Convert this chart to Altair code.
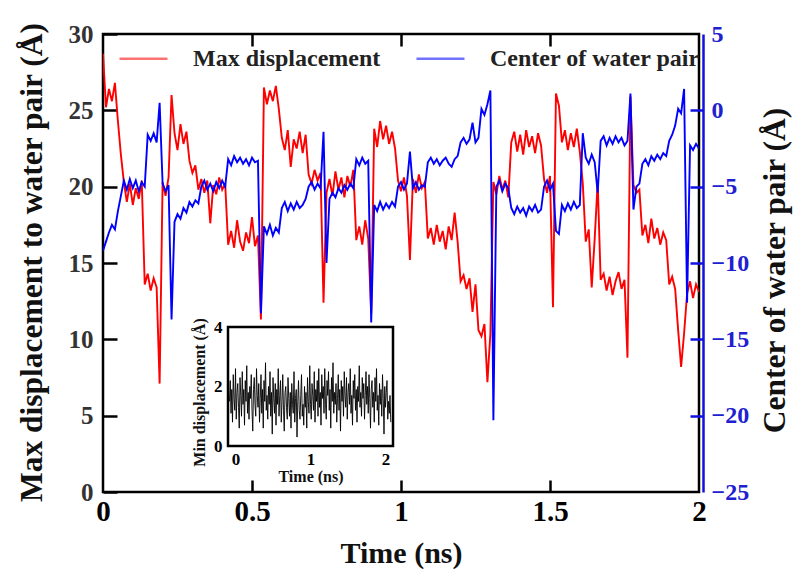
import altair as alt
import pandas as pd

FONT = "Liberation Serif"
W, H = 596, 458

# ---- data (time step 0.01 ns) ----
DT = 0.01
max_disp = [
    28.7, 25.2, 26.4, 25.6, 26.8, 24.3, 22.1, 20.3, 19.0, 20.2,
    18.8, 19.9, 19.2, 20.4, 13.6, 14.3, 13.2, 14.0, 13.4, 7.1,
    20.3, 19.4, 20.6, 26.0, 23.5, 22.4, 24.1, 22.8, 23.6, 21.7,
    20.9, 21.4, 19.8, 20.5, 19.6, 20.4, 17.6, 20.1, 19.5, 20.6,
    19.8, 20.2, 16.2, 17.1, 16.0, 17.8, 16.4, 15.8, 17.0, 16.3,
    18.0, 16.1, 16.8, 11.3, 26.5, 25.4, 26.3, 25.6, 26.6, 25.1,
    23.2, 22.4, 23.7, 21.3, 23.1, 22.5, 23.6, 22.2, 23.4, 20.8,
    20.2, 21.1, 20.4, 20.9, 12.4, 19.6, 20.5, 19.4, 21.0, 19.8,
    20.6, 19.3, 20.7, 20.0, 21.1, 16.5, 17.4, 16.2, 17.8, 16.6,
    11.7, 23.8, 22.6, 24.3, 23.1, 24.0, 22.8, 23.6, 22.5, 20.4,
    19.7, 20.6, 19.4, 15.2, 20.5, 19.6, 20.8, 19.9, 20.3, 16.6,
    17.3, 16.2, 17.5, 16.4, 17.1, 15.9, 17.4, 16.5, 18.3, 16.4,
    13.8, 14.2, 13.3, 14.0, 11.8, 13.6, 10.6, 10.2, 11.0, 7.2,
    10.4, 20.3, 19.5, 20.7, 19.8, 20.4, 19.3, 22.9, 23.6, 22.3,
    23.4, 22.1, 23.7, 22.6, 23.3, 22.2, 23.5, 22.7, 20.5, 19.6,
    20.7, 12.1, 26.1, 25.3, 22.9, 23.7, 22.4, 23.5, 22.6, 23.8,
    22.3, 20.2, 16.4, 17.2, 13.4, 16.6, 20.3, 13.9, 14.3, 13.2,
    14.1, 12.9, 13.8, 14.4, 13.3, 13.9, 8.8, 25.9, 20.1, 19.6,
    19.8, 16.8, 17.5, 16.3, 17.9, 16.6, 17.3, 16.2, 17.0, 16.5,
    13.6, 14.1, 13.3, 10.6, 8.2, 10.4, 13.0, 13.8, 12.7, 13.6,
    13.1,
]
center_pair = [
    -9.2, -8.6, -8.0, -7.5, -7.8, -6.6, -5.6, -4.6, -5.2, -4.5,
    -5.1, -4.6, -5.3, -4.7, -5.0, -1.6, -2.0, -1.5, -2.1, 0.5,
    -4.8, -5.3, -4.9, -13.7, -7.3, -6.8, -7.1, -6.4, -6.7, -6.0,
    -6.3, -5.9, -6.1, -5.0, -4.6, -5.2, -4.8, -5.3, -4.7, -5.1,
    -4.6, -5.0, -3.2, -3.6, -3.0, -3.4, -3.1, -3.5, -3.2, -3.6,
    -3.1, -3.4, -3.3, -13.3, -7.6, -8.1, -7.5, -8.2, -7.7, -8.0,
    -6.4, -6.0, -6.6, -6.1, -6.5, -6.0, -6.4, -6.2, -5.8, -5.0,
    -4.7, -5.2, -4.8, -5.1, -1.4, -10.0, -5.8, -5.4, -5.7, -5.1,
    -5.4, -4.9, -5.2, -4.8, -5.1, -3.2, -3.6, -3.1, -3.5, -3.3,
    -13.9, -6.2, -6.6, -6.0, -6.5, -6.1, -6.4, -6.0, -6.3, -5.0,
    -4.7, -5.2, -4.8, -2.7, -5.1, -4.7, -5.2, -4.9, -5.0, -3.4,
    -3.1, -3.5, -3.2, -3.6, -3.3, -3.1, -3.5, -3.7, -3.2, -3.0,
    -2.1, -1.8, -2.2, -1.9, -0.8, -2.1, -1.8, 0.1, -0.3, 0.4,
    1.3, -20.3, -5.0, -4.6, -5.3, -4.8, -5.1, -6.4, -6.8, -6.3,
    -6.7, -6.4, -6.9, -6.3, -6.6, -6.2, -6.7, -6.5, -5.0, -4.6,
    -5.2, -4.8, -7.9, -8.1, -6.2, -6.6, -6.1, -6.5, -6.0, -6.4,
    -6.2, -1.5, -3.1, -3.5, -2.9, -3.4, -5.4, -2.0, -1.7, -2.3,
    -1.8, -2.2, -1.7, -2.1, -1.8, -2.3, -2.0, 1.1, -6.5, -5.0,
    -4.8, -3.5, -3.2, -3.6, -3.0, -3.3, -2.9, -3.2, -2.8, -3.0,
    -2.0, -1.6, -1.0, 0.1, -0.2, 1.4, -12.6, -2.3, -2.6, -2.2,
    -2.5,
]
# inset: min displacement (time step 0.01 ns starting at -0.08)
INSET_T0, INSET_DT = -0.08, 0.01
min_disp = [
    1.5, 2.2, 1.1, 1.9, 0.8, 2.4, 1.6, 1.2, 2.6, 0.9, 1.8, 2.1, 1.3, 0.6, 2.3, 1.7, 1.0, 2.5, 1.4, 1.9,
    0.7, 2.2, 1.5, 2.7, 1.1, 1.8, 0.9, 2.0, 1.6, 2.4, 1.2, 0.5, 1.9, 2.3, 1.4, 1.0, 2.6, 1.7, 1.3, 2.1,
    0.8, 1.6, 2.4, 1.1, 1.9, 0.6, 2.2, 1.5, 2.8, 1.2, 1.7, 0.9, 2.0, 1.4, 2.5, 1.0, 1.8, 0.4, 2.3, 1.6,
    1.1, 2.1, 0.7, 1.9, 1.4, 2.6, 1.0, 1.7, 2.2, 0.8, 1.5, 2.4, 1.2, 0.5, 1.8, 2.0, 1.3, 0.9, 2.3, 1.6,
    1.0, 1.8, 0.6, 2.1, 1.4, 1.1, 2.5, 0.8, 1.6, 1.9, 0.3, 1.5, 2.2, 1.2, 0.9, 1.7, 2.4, 1.0, 1.4, 0.7,
    2.0, 1.3, 1.8, 0.6, 2.3, 1.5, 1.1, 2.7, 1.4, 0.9, 2.1, 1.7, 1.2, 2.5, 0.8, 1.9, 1.5, 2.2, 1.0, 2.6,
    1.3, 1.8, 0.7, 2.4, 1.6, 2.0, 1.1, 2.6, 1.4, 0.9, 2.2, 1.7, 2.5, 1.2, 1.9, 0.6, 2.3, 1.5, 2.8, 1.1,
    1.8, 1.4, 2.1, 0.8, 1.6, 2.4, 1.2, 1.9, 0.5, 2.2, 1.5, 2.0, 1.0, 2.5, 1.7, 1.3, 2.3, 0.9, 1.8, 2.1,
    1.4, 2.6, 1.1, 1.7, 0.7, 2.2, 1.6, 2.4, 1.2, 1.9, 0.8, 2.0, 1.5, 2.7, 1.3, 1.8, 1.0, 2.3, 1.6, 2.1,
    0.9, 1.7, 2.5, 1.4, 2.0, 1.1, 2.4, 1.6, 0.6, 1.9, 2.2, 1.3, 1.8, 0.8, 2.3, 1.5, 2.6, 1.2, 1.7, 0.7,
    2.1, 1.4, 1.9, 1.0, 2.4, 1.6, 0.4, 2.0, 1.3, 1.8, 2.2, 0.9, 1.5, 1.1, 1.7, 0.8,
]

x_ticks = [0, 0.5, 1, 1.5, 2]
x_inner_ticks = [0.5, 1, 1.5]
left_ticks = [0, 5, 10, 15, 20, 25, 30]
right_ticks = [-25, -20, -15, -10, -5, 0, 5]
series_names = ["Max displacement", "Center of water pair"]
series_colors = ["#ff0000", "#0000ff"]
inset_x_dom = [-0.1, 2.1]
inset_y_dom = [0, 4]
inset_ticks_x = [0, 1, 2]
inset_ticks_y = [0, 2, 4]

red_df = pd.DataFrame({"t": [round(i * DT, 4) for i in range(len(max_disp))], "v": max_disp,
                       "s": series_names[0]})
blue_df = pd.DataFrame({"t": [round(i * DT, 4) for i in range(len(center_pair))], "v": center_pair,
                        "s": series_names[1]})
inset_df = pd.DataFrame({"t": [round(INSET_T0 + i * INSET_DT, 4) for i in range(len(min_disp))],
                         "v": min_disp})
box_df = pd.DataFrame({"x0": [inset_x_dom[0]], "x1": [inset_x_dom[1]],
                       "y0": [inset_y_dom[0]], "y1": [inset_y_dom[1]]})

xs = alt.Scale(domain=[0, 2], nice=False, zero=False)
ys_red = alt.Scale(domain=[0, 30], nice=False, zero=False)
ys_blue = alt.Scale(domain=[-25, 5], nice=False, zero=False)
color_scale = alt.Scale(domain=series_names, range=series_colors)

legend = alt.Legend(orient="none", legendX=15, legendY=-1, direction="horizontal", title=None,
                    symbolType="stroke", symbolSize=2304, symbolStrokeWidth=2.5, symbolOpacity=0.55,
                    labelFont=FONT, labelFontSize=24, labelFontWeight="bold", labelColor="#222",
                    labelOffset=24, columnPadding=30, labelLimit=400)

red = alt.Chart(red_df).mark_line(strokeWidth=1.9, clip=True).encode(
    x=alt.X("t:Q", scale=xs, axis=alt.Axis(orient="bottom", values=x_ticks, format="~g",
            title="Time (ns)", ticks=False, domain=False, labelFontSize=29, titleFontSize=30,
            labelColor="black", titleColor="#111", labelPadding=5, labelFlush=False,
            titleX=W / 2, titleY=61, titleBaseline="middle")),
    y=alt.Y("v:Q", scale=ys_red, axis=alt.Axis(orient="left", values=left_ticks, ticks=False,
            domain=False, title="Max displacement to water pair (Å)", labelFontSize=25,
            titleFontSize=31.5, labelColor="#333", titleColor="#111", labelPadding=10,
            titleX=-71, titleY=228, titleAngle=270, titleBaseline="middle")),
    color=alt.Color("s:N", scale=color_scale, legend=legend),
)

blue = alt.Chart(blue_df).mark_line(strokeWidth=1.9, clip=True).encode(
    x=alt.X("t:Q", scale=xs, axis=alt.Axis(orient="top", offset=-H, values=x_inner_ticks,
            labels=False, title=None, domain=False, ticks=True, tickSize=12, tickWidth=2.5,
            tickColor="black")),
    y=alt.Y("v:Q", scale=ys_blue, axis=alt.Axis(orient="right", offset=4, values=right_ticks,
            ticks=False, domain=True, domainColor="#1010e0", domainWidth=2.5,
            title="Center of water pair (Å)", labelFontSize=24, titleFontSize=31.5,
            labelColor="#2020d0", titleColor="#111", labelPadding=8,
            titleX=72, titleY=236, titleAngle=270, titleBaseline="middle")),
    color=alt.Color("s:N", scale=color_scale, legend=legend),
)

red_ticks = alt.Chart(red_df).mark_line(opacity=0).encode(
    x=alt.X("t:Q", scale=xs, axis=alt.Axis(orient="bottom", offset=-H, values=x_inner_ticks,
            labels=False, title=None, domain=False, tickSize=12, tickWidth=2.5, tickColor="black")),
    y=alt.Y("v:Q", scale=ys_red, axis=alt.Axis(orient="right", offset=-W, values=left_ticks,
            labels=False, title=None, domain=False, tickSize=14, tickWidth=2.5, tickColor="black")),
)

blue_ticks = alt.Chart(blue_df).mark_line(opacity=0).encode(
    x=alt.X("t:Q", scale=xs, axis=None),
    y=alt.Y("v:Q", scale=ys_blue, axis=alt.Axis(orient="left", offset=-(W + 4), values=right_ticks[1:-1],
            labels=False, title=None, domain=False, tickSize=13, tickWidth=2.5, tickColor="#1010e0")),
)

ixs = alt.Scale(domain=inset_x_dom, range=[125, 290], nice=False, zero=False)
iys = alt.Scale(domain=inset_y_dom, range=[412, 293], nice=False, zero=False)

box = alt.Chart(box_df).mark_rect(fill="white", stroke="black", strokeWidth=2.5).encode(
    x=alt.X("x0:Q", scale=ixs, axis=None), x2="x1:Q",
    y=alt.Y("y0:Q", scale=iys, axis=None), y2="y1:Q",
)

inset = alt.Chart(inset_df).mark_line(color="black", strokeWidth=0.9, opacity=1).encode(
    x=alt.X("t:Q", scale=ixs, axis=alt.Axis(orient="bottom", offset=-(H - 412), values=inset_ticks_x,
            format="~g", title="Time (ns)", ticks=False, domain=False, labelFontSize=17,
            titleFontSize=16, labelColor="black", titleColor="#111", labelPadding=5, titlePadding=1,
            labelFlush=False, titleX=207.5)),
    y=alt.Y("v:Q", scale=iys, axis=alt.Axis(orient="left", offset=-125, values=inset_ticks_y,
            title="Min displacement (Å)", ticks=False, domain=False, labelFontSize=17,
            titleFontSize=16, labelColor="black", titleColor="#111", labelPadding=6, titlePadding=6,
            titleY=358)),
)

chart = alt.layer(red, blue, red_ticks, blue_ticks, box, inset).resolve_scale(
    x="independent", y="independent"
).properties(
    width=W, height=H,
    padding={"left": 103, "top": 34, "right": 99, "bottom": 79},
    autosize=alt.AutoSizeParams(type="none"),
    background="white",
).configure_axis(
    grid=False, labelFont=FONT, titleFont=FONT, labelFontWeight="bold", titleFontWeight="bold",
).configure_view(stroke="black", strokeWidth=2.5)

chart.save("out.html", embed_options={"renderer": "svg", "actions": False})
